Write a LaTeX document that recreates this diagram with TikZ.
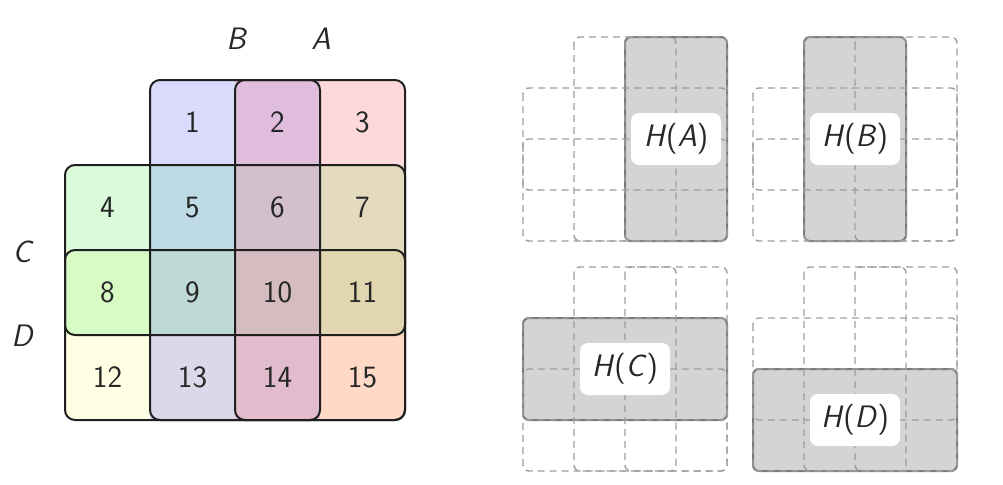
\documentclass[tikz,border=0pt]{standalone}
\usetikzlibrary{calc}
\definecolor{k1}{RGB}{218,218,252}
\definecolor{k2}{RGB}{224,189,220}
\definecolor{k3}{RGB}{255,217,217}
\definecolor{k4}{RGB}{218,251,218}
\definecolor{k5}{RGB}{190,218,228}
\definecolor{k6}{RGB}{212,191,204}
\definecolor{k7}{RGB}{228,218,190}
\definecolor{k8}{RGB}{216,251,198}
\definecolor{k9}{RGB}{191,217,213}
\definecolor{k10}{RGB}{212,188,192}
\definecolor{k11}{RGB}{226,214,176}
\definecolor{k12}{RGB}{255,255,228}
\definecolor{k13}{RGB}{217,217,233}
\definecolor{k14}{RGB}{226,188,204}
\definecolor{k15}{RGB}{255,216,198}
\tikzset{
  region/.style={draw=black!88, line width=1pt, rounded corners=5pt},
  num/.style={font=\sffamily\fontsize{15.5}{18}\selectfont, text=black!85},
  setlbl/.style={font=\sffamily\itshape\fontsize{15.5}{18}\selectfont, text=black!85},
  dsh/.style={draw=black!38, line width=0.7pt, dash pattern=on 3.5pt off 2.5pt, rounded corners=3pt},
  hl/.style={draw=black!52, line width=1pt, fill=black!17, rounded corners=3pt},
  hlabel/.style={fill=white, rounded corners=4pt, minimum width=45pt, minimum height=26pt, inner sep=0pt,
     font=\sffamily\fontsize{15.5}{18}\selectfont, text=black!85}
}
\newcommand{\hdiag}[5]{%
  \begin{scope}[shift={(#1,#2)}]
    \draw[hl] #3 rectangle #4;
    \draw[dsh] (102,0) rectangle (204,204);
    \draw[dsh] (51,0) rectangle (153,204);
    \draw[dsh] (0,51) rectangle (204,153);
    \draw[dsh] (0,102) rectangle (204,204);
    \node[hlabel] (#5) at ($#3!0.5!#4$) {\textit{H}(\textit{#5})};
  \end{scope}}
\begin{document}
\begin{tikzpicture}[x=0.5pt, y=-0.5pt]
\useasboundingbox (0,0) rectangle (1003,484);
\begin{scope}[shift={(65,80)}]
  % cell fills (corner cells clipped by their region's rounded outline)
  \foreach \n/\c/\r in {2/2/0,5/1/1,6/2/1,7/3/1,8/0/2,9/1/2,10/2/2,11/3/2,13/1/3,14/2/3}
    \fill[k\n] (85*\c,85*\r) rectangle ++(85,85);
  \begin{scope}\clip[rounded corners=5pt] (85,0) rectangle (255,340);
    \fill[k1] (85,0) rectangle (170,85);\end{scope}
  \begin{scope}\clip[rounded corners=5pt] (170,0) rectangle (340,340);
    \fill[k3] (255,0) rectangle (340,85);
    \fill[k15] (255,255) rectangle (340,340);\end{scope}
  \begin{scope}\clip[rounded corners=5pt] (0,85) rectangle (340,255);
    \fill[k4] (0,85) rectangle (85,170);\end{scope}
  \begin{scope}\clip[rounded corners=5pt] (0,170) rectangle (340,340);
    \fill[k12] (0,255) rectangle (85,340);\end{scope}
  % region outlines
  \draw[region] (0,85) rectangle (340,255);
  \draw[region] (0,170) rectangle (340,340);
  \draw[region] (85,0) rectangle (255,340);
  \draw[region] (170,0) rectangle (340,340);
  \foreach \n/\c/\r in {1/1/0,2/2/0,3/3/0,4/0/1,5/1/1,6/2/1,7/3/1,8/0/2,9/1/2,10/2/2,11/3/2,12/0/3,13/1/3,14/2/3,15/3/3}
    \node[num] (c\n) at (42.5+85*\c, 42.5+85*\r) {\n};
\end{scope}
\node[setlbl] (lB) at (236,39) {B};
\node[setlbl] (lA) at (321,39) {A};
\node[setlbl] (lC) at (22,252) {C};
\node[setlbl] (lD) at (22,336) {D};
\hdiag{523}{37}{(102,0)}{(204,204)}{A}
\hdiag{753}{37}{(51,0)}{(153,204)}{B}
\hdiag{523}{267}{(0,51)}{(204,153)}{C}
\hdiag{753}{267}{(0,102)}{(204,204)}{D}
\end{tikzpicture}
\end{document}
